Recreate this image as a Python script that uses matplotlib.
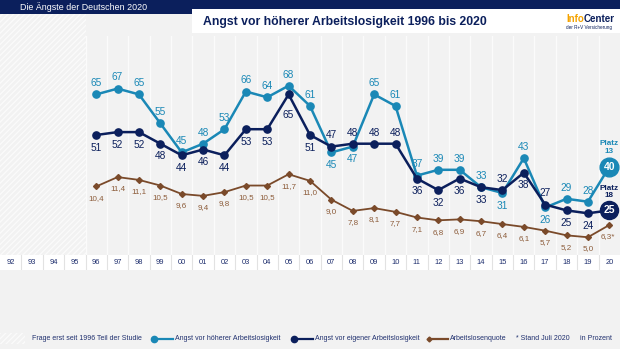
import matplotlib.pyplot as plt
from matplotlib.patches import Rectangle
from matplotlib.lines import Line2D

plt.rcParams['font.family'] = ['Liberation Sans', 'DejaVu Sans']
plt.rcParams['hatch.linewidth'] = 0.9

all_years = list(range(1992, 2021))
years = list(range(1996, 2021))
higher = [65, 67, 65, 55, 45, 48, 53, 66, 64, 68, 61, 45, 47, 65, 61, 37, 39, 39, 33, 31, 43, 26, 29, 28, 40]
own = [51, 52, 52, 48, 44, 46, 44, 53, 53, 65, 51, 47, 48, 48, 48, 36, 32, 36, 33, 32, 38, 27, 25, 24, 25]
rate = [10.4, 11.4, 11.1, 10.5, 9.6, 9.4, 9.8, 10.5, 10.5, 11.7, 11.0, 9.0, 7.8, 8.1, 7.7, 7.1, 6.8, 6.9, 6.7, 6.4, 6.1, 5.7, 5.2, 5.0, 6.3]
# label position: a = above, b = below
higher_pos = "aaaaaaaaaaabbaaaaaababaaa"
own_pos = "bbbbbbbbbbbaaaabbbbababbb"

LIGHT = '#1a88b6'
NAVY = '#0b1f5c'
BROWN = '#7a4a2a'
BROWN_TXT = '#8c5c3a'
TXT = '#1f2f6e'
BG = '#f2f2f2'

W, H = 620, 349
def fx(x): return x / W
def fy(y): return 1 - y / H

fig = plt.figure(figsize=(6.2, 3.49), dpi=100, facecolor=BG)

# header
fig.patches.append(Rectangle((0, fy(14)), 1, 14 / H, transform=fig.transFigure, facecolor=NAVY, lw=0))
fig.text(fx(20), fy(7), "Die Ängste der Deutschen 2020", color='white', fontsize=6.4, va='center')
fig.patches.append(Rectangle((fx(192), fy(33)), 1 - fx(192), 24 / H, transform=fig.transFigure, facecolor='white', lw=0))
fig.text(fx(203), fy(21.5), "Angst vor höherer Arbeitslosigkeit 1996 bis 2020", color=NAVY,
         fontsize=8.85, fontweight='bold', va='center')
t1 = fig.text(fx(566), fy(19), "Info", color='#f5a300', fontsize=7, fontweight='bold', va='center')
fig.canvas.draw()
bb = t1.get_window_extent()
fig.text(bb.x1 / W, fy(19), "Center", color=NAVY, fontsize=7, fontweight='bold', va='center')
fig.text(fx(566), fy(27.5), "der R+V Versicherung", color=NAVY, fontsize=3.3, va='center')

# hatched area before 1996
fig.patches.append(Rectangle((0, fy(255)), fx(85.5), (255 - 14) / H, transform=fig.transFigure,
                             facecolor=BG, edgecolor='#fbfbfb', hatch='//////', lw=0))

ax = fig.add_axes([0, fy(255), 1, (255 - 36) / H])
ax.set_xlim(1991.5, 2020.5)
ax.set_ylim(9.62, 85.14)
ax.axis('off')
for x in all_years[:-1]:
    ax.axvline(x + 0.5, color='#fbfbfb', lw=1, zorder=0)

ax.plot(years, higher, color=LIGHT, lw=1.8, marker='o', ms=5.2, zorder=3)
ax.plot(years, own, color=NAVY, lw=1.8, marker='o', ms=5.2, zorder=4)

for x, v, p in zip(years[:-1], higher[:-1], higher_pos):
    ax.annotate(str(v), (x, v), xytext=(0, 8 if p == 'a' else -9), textcoords='offset points',
                ha='center', va='center', color=LIGHT, fontsize=7.3)
for x, v, p in zip(years[:-1], own[:-1], own_pos):
    dy = 8 if p == 'a' else -9
    if x == 2005:
        dy = -14.5
    ax.annotate(str(v), (x, v), xytext=(0, dy), textcoords='offset points',
                ha='center', va='center', color=NAVY, fontsize=7.3)

# end circles
ax.plot(years[-1], higher[-1], 'o', color=LIGHT, ms=13.5, zorder=6)
ax.text(years[-1], higher[-1], str(higher[-1]), color='white', fontsize=7.5, fontweight='bold',
        ha='center', va='center', zorder=7)
ax.annotate("Platz\n13", (years[-1], higher[-1]), xytext=(0, 8.5), textcoords='offset points',
            ha='center', va='bottom', color=LIGHT, fontsize=5.9, fontweight='bold', linespacing=1.15)
ax.plot(years[-1], own[-1], 'o', color=NAVY, ms=13, zorder=6)
ax.text(years[-1], own[-1], str(own[-1]), color='white', fontsize=7.5, fontweight='bold',
        ha='center', va='center', zorder=7)
ax.annotate("Platz\n18", (years[-1], own[-1]), xytext=(0, 8), textcoords='offset points',
            ha='center', va='bottom', color=NAVY, fontsize=5.9, fontweight='bold', linespacing=1.15)

ax2 = ax.twinx()
ax2.set_ylim(3.11, 26.41)
ax2.axis('off')
ax2.plot(years, rate, color=BROWN, lw=1.3, marker='D', ms=3, zorder=3)
for x, v in zip(years, rate):
    s = f"{v:.1f}".replace('.', ',')
    if x == 2020:
        s += '*'
    ax2.annotate(s, (x, v), xytext=(-1 if x == 2020 else 0, -8.5), textcoords='offset points',
                 ha='center', va='center', color=BROWN_TXT, fontsize=5.8)

# year band
bax = fig.add_axes([0, fy(270), 1, 15 / H])
bax.set_xlim(1991.5, 2020.5)
bax.set_ylim(0, 1)
bax.set_facecolor('white')
bax.set_xticks([]); bax.set_yticks([])
for s in bax.spines.values():
    s.set_visible(False)
for x in all_years:
    if x < 2020:
        bax.axvline(x + 0.5, color='#e2e2e2', lw=0.8)
    bax.text(x, 0.5, f"{x % 100:02d}", ha='center', va='center', color=TXT, fontsize=5.4)

# legend
ly = fy(338.5)
fs = 5.05
fig.patches.append(Rectangle((0, fy(344)), fx(25), 11 / H, transform=fig.transFigure,
                             facecolor=BG, edgecolor='#fbfbfb', hatch='//////', lw=0))
fig.text(fx(32), ly, "Frage erst seit 1996 Teil der Studie", color=TXT, fontsize=fs, va='center')
for x0, col, mk, ms, lab in [(154, LIGHT, 'o', 4.5, "Angst vor höherer Arbeitslosigkeit"),
                             (294, NAVY, 'o', 4.5, "Angst vor eigener Arbeitslosigkeit"),
                             (429, BROWN, 'D', 2.5, "Arbeitslosenquote")]:
    fig.lines.append(Line2D([fx(x0), fx(x0 + 19)], [ly, ly], transform=fig.transFigure, color=col, lw=1.6))
    fig.lines.append(Line2D([fx(x0)], [ly], transform=fig.transFigure, color=col, marker=mk, ms=ms))
    fig.text(fx(x0 + 21), ly, lab, color=TXT, fontsize=fs, va='center')
fig.text(fx(516), ly, "* Stand Juli 2020", color=TXT, fontsize=fs, va='center')
fig.text(fx(580), ly, "in Prozent", color=TXT, fontsize=fs, va='center')

fig.savefig("out.png", dpi=100, facecolor=BG)
